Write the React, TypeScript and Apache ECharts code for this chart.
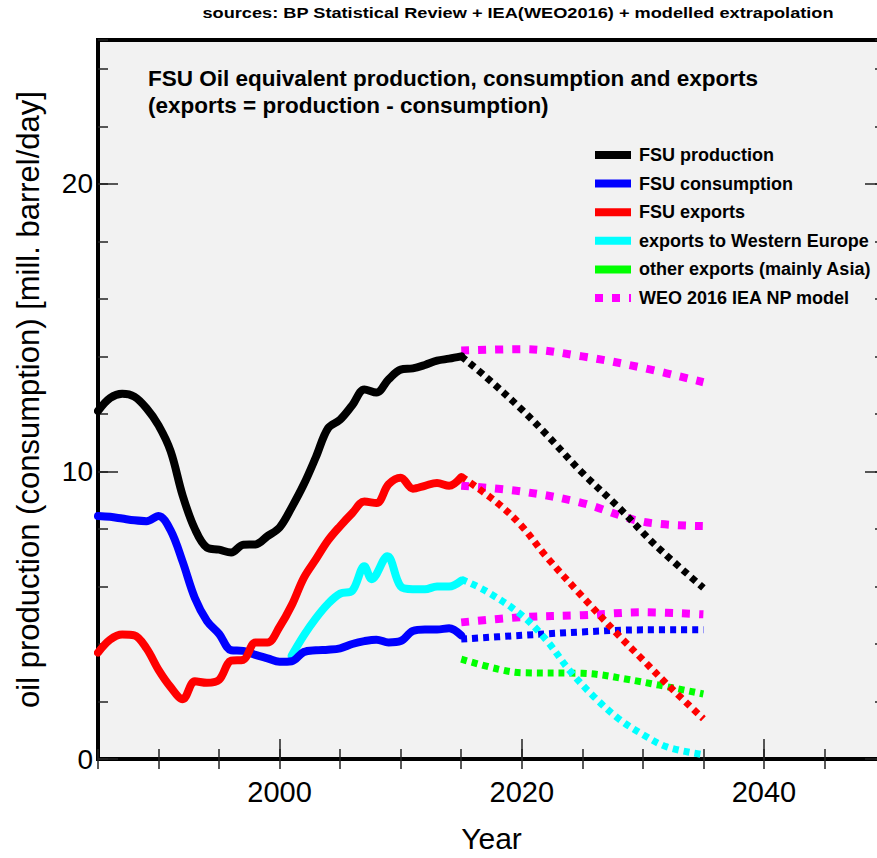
import React, { useEffect, useRef } from 'react';
import * as echarts from 'echarts';

const FONT = '"Liberation Sans", Arial, sans-serif';

// Historical series (year, million barrels/day)
const productionHist: [number, number][] = [
  [1985, 12.1], [1986, 12.55], [1987, 12.7], [1988, 12.6], [1989, 12.2], [1990, 11.6],
  [1991, 10.7], [1992, 9.15], [1993, 8.0], [1994, 7.35], [1995, 7.28], [1996, 7.18],
  [1997, 7.45], [1998, 7.46], [1999, 7.75], [2000, 8.05], [2001, 8.75], [2002, 9.55],
  [2003, 10.5], [2004, 11.5], [2005, 11.8], [2006, 12.3], [2007, 12.85], [2008, 12.74],
  [2009, 13.2], [2010, 13.54], [2011, 13.58], [2012, 13.7], [2013, 13.85], [2014, 13.92],
  [2015, 14.0],
];
const consumptionHist: [number, number][] = [
  [1985, 8.45], [1986, 8.42], [1987, 8.36], [1988, 8.3], [1989, 8.27], [1990, 8.45],
  [1991, 7.95], [1992, 6.85], [1993, 5.6], [1994, 4.8], [1995, 4.35], [1996, 3.78],
  [1997, 3.76], [1998, 3.62], [1999, 3.5], [2000, 3.38], [2001, 3.4], [2002, 3.72],
  [2003, 3.78], [2004, 3.8], [2005, 3.85], [2006, 4.0], [2007, 4.1], [2008, 4.15],
  [2009, 4.05], [2010, 4.1], [2011, 4.45], [2012, 4.5], [2013, 4.5], [2014, 4.55],
  [2015, 4.3],
];
const exportsHist: [number, number][] = [
  [1985, 3.7], [1986, 4.15], [1987, 4.33], [1988, 4.3], [1989, 3.85], [1990, 3.1],
  [1991, 2.5], [1992, 2.08], [1993, 2.7], [1994, 2.65], [1995, 2.75], [1996, 3.42],
  [1997, 3.45], [1998, 4.05], [1999, 4.05], [2000, 4.6], [2001, 5.35], [2002, 6.3],
  [2003, 6.95], [2004, 7.6], [2005, 8.1], [2006, 8.55], [2007, 8.95], [2008, 8.9],
  [2009, 9.55], [2010, 9.78], [2011, 9.4], [2012, 9.5], [2013, 9.6], [2014, 9.5],
  [2015, 9.8],
];
const westEuropeHist: [number, number][] = [
  [2001, 3.6], [2002, 4.3], [2003, 4.9], [2004, 5.4], [2005, 5.75], [2006, 5.85],
  [2007, 6.7], [2007.6, 6.25], [2008.9, 7.05], [2010, 6.0], [2011, 5.9], [2012, 5.9],
  [2013, 6.0], [2014, 6.0], [2015, 6.2],
];

// Modelled extrapolation
const productionFcst: [number, number][] = [
  [2015, 14.0], [2017, 13.3], [2020, 12.15], [2022, 11.3], [2025, 9.95], [2028, 8.75],
  [2031, 7.45], [2035, 5.95],
];
const consumptionFcst: [number, number][] = [
  [2015, 4.17], [2020, 4.3], [2025, 4.42], [2030, 4.49], [2035, 4.49],
];
const exportsFcst: [number, number][] = [
  [2015, 9.83], [2018, 8.9], [2020, 8.1], [2022, 7.05], [2025, 5.65], [2028, 4.3],
  [2030, 3.45], [2032, 2.6], [2035, 1.4],
];
const westEuropeFcst: [number, number][] = [
  [2015, 6.25], [2017, 5.85], [2020, 5.0], [2022, 4.15], [2024, 3.05], [2026, 2.15],
  [2028, 1.4], [2030, 0.85], [2032, 0.42], [2035, 0.15],
];
const otherExportsFcst: [number, number][] = [
  [2015, 3.47], [2018, 3.13], [2020, 3.0], [2025, 2.98], [2029, 2.75], [2035, 2.26],
];

// WEO 2016 IEA NP model
const weoProduction: [number, number][] = [
  [2015, 14.2], [2020, 14.25], [2025, 14.0], [2030, 13.6], [2035, 13.1],
];
const weoExports: [number, number][] = [
  [2015, 9.5], [2020, 9.3], [2025, 8.9], [2030, 8.25], [2035, 8.1],
];
const weoConsumption: [number, number][] = [
  [2015, 4.75], [2020, 4.93], [2025, 5.0], [2030, 5.1], [2035, 5.03],
];

const xMajorTicks = [2000, 2020, 2040];
const yMajorTicks = [0, 10, 20];

const legendItems = [
  { label: 'FSU production', color: '#000000', dashed: false },
  { label: 'FSU consumption', color: '#0000ff', dashed: false },
  { label: 'FSU exports', color: '#ff0000', dashed: false },
  { label: 'exports to Western Europe', color: '#00ffff', dashed: false },
  { label: 'other exports (mainly Asia)', color: '#00ff00', dashed: false },
  { label: 'WEO 2016 IEA NP model', color: '#ff00ff', dashed: true },
];

const titleLines = [
  'FSU Oil equivalent production, consumption and exports',
  '(exports = production - consumption)',
];
const sourcesText = 'sources: BP Statistical Review + IEA(WEO2016) + modelled extrapolation';

function solid(name: string, data: [number, number][], color: string, z: number) {
  return {
    type: 'line', name, data, smooth: 0.35, showSymbol: false, z,
    lineStyle: { color, width: 8, cap: 'round', join: 'round' },
  };
}
function dotted(name: string, data: [number, number][], color: string, z: number) {
  return {
    type: 'line', name, data, smooth: 0.35, showSymbol: false, z,
    lineStyle: { color, width: 7, type: [6, 5], cap: 'butt' },
  };
}
function weo(name: string, data: [number, number][], z: number) {
  return {
    type: 'line', name, data, smooth: 0.35, showSymbol: false, z,
    lineStyle: { color: '#ff00ff', width: 8, type: [8, 9], cap: 'butt' },
  };
}

export default function App() {
  const ref = useRef<HTMLDivElement>(null);
  useEffect(() => {
    if (!ref.current) return;
    const chart = echarts.init(ref.current, null, { renderer: 'svg' });
    const tickLine = { color: '#222', width: 1.5 };
    const baseX = {
      type: 'value', min: 1985, max: 2050, gridIndex: 0,
      axisLine: { show: false }, splitLine: { show: false },
    };
    const baseY = {
      type: 'value', min: 0, max: 25, gridIndex: 0,
      axisLine: { show: false }, splitLine: { show: false },
    };
    const legendGraphics: any[] = [];
    legendItems.forEach((it, i) => {
      const y = 155 + i * 28.6;
      legendGraphics.push({
        type: 'line', shape: { x1: 595, y1: y, x2: 631, y2: y },
        style: { stroke: it.color, lineWidth: 8, lineDash: it.dashed ? [8, 9] : null },
        z: 100,
      });
      legendGraphics.push({
        type: 'text', x: 639, y,
        style: {
          text: it.label, fill: '#000', font: `bold 18px ${FONT}`,
          textVerticalAlign: 'middle', verticalAlign: 'middle',
        },
        z: 100,
      });
    });
    chart.setOption({
      animation: false,
      backgroundColor: '#ffffff',
      textStyle: { fontFamily: FONT },
      grid: {
        left: 98, top: 40, right: 24, bottom: 98,
        show: true, backgroundColor: '#f2f2f2', borderColor: '#000', borderWidth: 4,
        containLabel: false,
      },
      xAxis: [
        {
          ...baseX, position: 'bottom', interval: 5,
          axisTick: { inside: true, length: 10, lineStyle: tickLine },
          axisLabel: {
            fontSize: 29, color: '#000', margin: 18, fontFamily: FONT,
            formatter: (v: number) => (xMajorTicks.includes(v) ? String(v) : ''),
          },
          name: 'Year', nameLocation: 'middle', nameGap: 64,
          nameTextStyle: { fontSize: 30, color: '#000', fontFamily: FONT },
        },
        {
          ...baseX, position: 'bottom',
          axisTick: { inside: true, length: 20, customValues: xMajorTicks, lineStyle: tickLine },
          axisLabel: { show: false },
        },
        {
          ...baseX, position: 'top', interval: 5,
          axisTick: { inside: true, length: 10, lineStyle: tickLine },
          axisLabel: { show: false },
        },
      ],
      yAxis: [
        {
          ...baseY, position: 'left', interval: 2,
          axisTick: { inside: true, length: 10, lineStyle: tickLine },
          axisLabel: {
            fontSize: 28, color: '#000', margin: 5, fontFamily: FONT,
            formatter: (v: number) => (yMajorTicks.includes(v) ? String(v) : ''),
          },
          name: 'oil production (consumption) [mill. barrel/day]',
          nameLocation: 'middle', nameGap: 54,
          nameTextStyle: { fontSize: 31, color: '#000', fontFamily: FONT },
        },
        {
          ...baseY, position: 'left',
          axisTick: { inside: true, length: 20, customValues: yMajorTicks, lineStyle: tickLine },
          axisLabel: { show: false },
        },
        {
          ...baseY, position: 'right', interval: 2,
          axisTick: { inside: true, length: 10, lineStyle: tickLine },
          axisLabel: { show: false },
        },
        {
          ...baseY, position: 'right',
          axisTick: { inside: true, length: 20, customValues: yMajorTicks, lineStyle: tickLine },
          axisLabel: { show: false },
        },
      ],
      series: [
        weo('WEO production', weoProduction, 2),
        weo('WEO exports', weoExports, 2),
        weo('WEO consumption', weoConsumption, 2),
        dotted('other exports (mainly Asia)', otherExportsFcst, '#00ff00', 3),
        dotted('FSU consumption model', consumptionFcst, '#0000ff', 3),
        dotted('exports to Western Europe model', westEuropeFcst, '#00ffff', 3),
        dotted('FSU exports model', exportsFcst, '#ff0000', 3),
        dotted('FSU production model', productionFcst, '#000000', 3),
        solid('exports to Western Europe', westEuropeHist, '#00ffff', 4),
        solid('FSU consumption', consumptionHist, '#0000ff', 4),
        solid('FSU exports', exportsHist, '#ff0000', 4),
        solid('FSU production', productionHist, '#000000', 4),
      ],
      graphic: [
        {
          type: 'text', x: 518, y: 13, scaleX: 1.3,
          style: {
            text: sourcesText, fill: '#000', font: `bold 14px ${FONT}`,
            textAlign: 'center', align: 'center', textVerticalAlign: 'middle', verticalAlign: 'middle',
          },
        },
        ...titleLines.map((t, i) => ({
          type: 'text', x: 148, y: 78 + i * 27,
          style: {
            text: t, fill: '#000', font: `bold 22.5px ${FONT}`,
            textVerticalAlign: 'middle', verticalAlign: 'middle',
          },
          z: 100,
        })),
        ...legendGraphics,
      ],
    });
    return () => chart.dispose();
  }, []);
  return (
    <div
      ref={ref}
      style={{ position: 'fixed', left: 0, top: 0, width: 909, height: 858 }}
    />
  );
}
